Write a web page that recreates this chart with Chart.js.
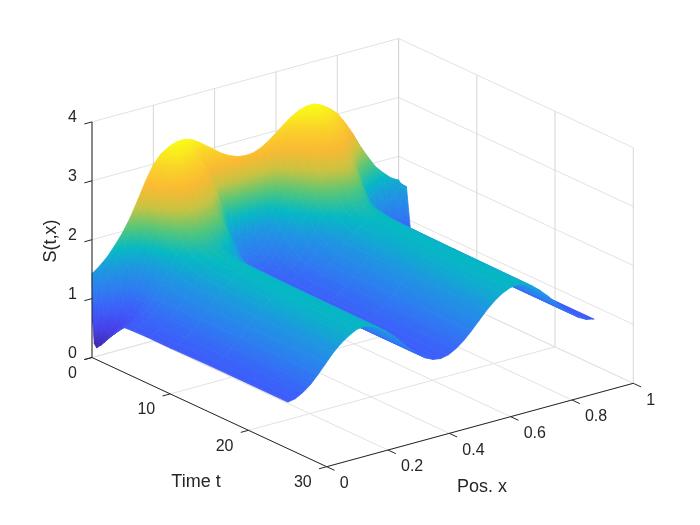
<!DOCTYPE html>
<html>
<head>
<meta charset="utf-8">
<title>S(t,x)</title>
<script src="https://cdn.jsdelivr.net/npm/chart.js@4"></script>
<style>
  html, body { margin: 0; padding: 0; background: #fff; }
  canvas { display: block; }
</style>
</head>
<body>
<canvas id="surfaceChart" width="700" height="525"></canvas>
<script>
// values
const timeValues = [0, 0.1, 0.3, 0.6, 1, 1.5, 2, 3, 4, 5, 7, 10, 15, 25];
const posValues = [0, 0.005, 0.025, 0.05, 0.075, 0.1, 0.125, 0.15, 0.175, 0.2, 0.225, 0.25, 0.275, 0.3, 0.325, 0.35, 0.375, 0.4, 0.425, 0.45, 0.475,
  0.5, 0.525, 0.55, 0.575, 0.6, 0.625, 0.65, 0.675, 0.7, 0.725, 0.75, 0.775, 0.8, 0.825, 0.85, 0.875, 0.9, 0.925, 0.95, 0.975, 0.995, 1];
const surfaceRows = [
  [1.43, 1.44, 1.52, 1.64, 1.80, 1.98, 2.20, 2.47, 2.75, 2.99, 3.14, 3.22, 3.27, 3.28, 3.24, 3.16, 3.06, 2.96, 2.86, 2.79, 2.74,
    2.72, 2.73, 2.78, 2.86, 2.96, 3.07, 3.17, 3.24, 3.28, 3.28, 3.22, 3.13, 3.01, 2.82, 2.60, 2.35, 2.13, 1.93, 1.79, 1.67, 1.61, 1.60],
  [0.60, 0.85, 1.42, 1.60, 1.76, 1.93, 2.17, 2.44, 2.73, 2.98, 3.14, 3.22, 3.27, 3.28, 3.20, 3.05, 2.85, 2.60, 2.35, 2.20, 2.08,
    2.05, 2.10, 2.25, 2.45, 2.65, 2.88, 3.05, 3.20, 3.27, 3.27, 3.22, 3.12, 3.00, 2.80, 2.58, 2.32, 2.08, 1.88, 1.72, 1.62, 1.58, 1.58],
  [0.25, 0.45, 1.10, 1.40, 1.62, 1.80, 2.07, 2.36, 2.68, 2.95, 3.13, 3.22, 3.26, 3.24, 3.12, 2.90, 2.60, 2.25, 1.85, 1.55, 1.40,
    1.35, 1.40, 1.60, 1.95, 2.30, 2.62, 2.92, 3.12, 3.24, 3.26, 3.20, 3.10, 2.97, 2.76, 2.50, 2.22, 1.95, 1.72, 1.55, 1.55, 1.56, 1.56],
  [0.20, 0.26, 0.62, 1.02, 1.28, 1.50, 1.85, 2.20, 2.58, 2.88, 3.10, 3.20, 3.22, 3.18, 3.05, 2.85, 2.55, 2.15, 1.70, 1.35, 1.22,
    1.20, 1.25, 1.42, 1.72, 2.10, 2.45, 2.78, 3.02, 3.18, 3.22, 3.18, 3.08, 2.92, 2.65, 2.35, 2.02, 1.70, 1.45, 1.30, 1.45, 1.55, 1.55],
  [0.26, 0.27, 0.38, 0.65, 0.90, 1.20, 1.60, 2.00, 2.45, 2.80, 3.05, 3.18, 3.12, 3.05, 2.95, 2.75, 2.45, 2.05, 1.60, 1.25, 1.12,
    1.08, 1.15, 1.32, 1.62, 1.98, 2.30, 2.62, 2.90, 3.08, 3.16, 3.12, 3.00, 2.78, 2.45, 2.10, 1.70, 1.30, 1.05, 0.95, 1.20, 1.50, 1.55],
  [0.35, 0.36, 0.42, 0.52, 0.75, 1.02, 1.40, 1.80, 2.25, 2.65, 2.95, 3.05, 3.00, 2.85, 2.70, 2.50, 2.20, 1.80, 1.42, 1.15, 1.02,
    1.00, 1.05, 1.22, 1.50, 1.80, 2.12, 2.45, 2.75, 2.95, 3.05, 3.00, 2.85, 2.60, 2.20, 1.75, 1.32, 0.95, 0.72, 0.60, 0.68, 0.84, 0.86],
  [0.45, 0.46, 0.50, 0.58, 0.72, 0.95, 1.32, 1.70, 2.10, 2.45, 2.68, 2.78, 2.70, 2.60, 2.45, 2.25, 1.95, 1.60, 1.28, 1.08, 0.96,
    0.92, 0.98, 1.12, 1.38, 1.68, 2.00, 2.28, 2.55, 2.75, 2.85, 2.80, 2.60, 2.35, 1.95, 1.50, 1.10, 0.80, 0.60, 0.50, 0.52, 0.55, 0.55],
  [0.62, 0.63, 0.65, 0.70, 0.80, 1.02, 1.30, 1.58, 1.85, 2.10, 2.28, 2.35, 2.30, 2.25, 2.15, 2.00, 1.72, 1.42, 1.18, 1.00, 0.90,
    0.86, 0.90, 1.02, 1.25, 1.50, 1.75, 2.00, 2.25, 2.40, 2.50, 2.50, 2.30, 2.05, 1.70, 1.32, 1.02, 0.80, 0.65, 0.55, 0.52, 0.52, 0.52],
  [0.76, 0.76, 0.78, 0.82, 0.92, 1.10, 1.32, 1.55, 1.75, 1.88, 2.00, 2.05, 2.00, 1.95, 1.85, 1.68, 1.45, 1.25, 1.06, 0.94, 0.86,
    0.84, 0.87, 0.97, 1.12, 1.32, 1.52, 1.72, 1.88, 2.00, 2.05, 2.05, 1.95, 1.78, 1.55, 1.28, 1.05, 0.90, 0.78, 0.70, 0.70, 0.72, 0.72],
  [0.77, 0.77, 0.79, 0.85, 0.96, 1.12, 1.32, 1.50, 1.66, 1.76, 1.82, 1.84, 1.82, 1.74, 1.62, 1.50, 1.36, 1.22, 1.03, 0.92, 0.85,
    0.83, 0.86, 0.94, 1.07, 1.22, 1.40, 1.55, 1.70, 1.80, 1.85, 1.85, 1.80, 1.70, 1.55, 1.35, 1.15, 1.00, 0.88, 0.80, 0.76, 0.76, 0.76],
  [0.78, 0.78, 0.80, 0.88, 0.98, 1.12, 1.28, 1.44, 1.57, 1.67, 1.74, 1.76, 1.73, 1.66, 1.55, 1.43, 1.29, 1.15, 1.02, 0.90, 0.84,
    0.82, 0.85, 0.92, 1.03, 1.16, 1.31, 1.45, 1.58, 1.67, 1.74, 1.76, 1.73, 1.65, 1.53, 1.40, 1.24, 1.08, 0.97, 0.87, 0.79, 0.77, 0.77],
  [0.78, 0.78, 0.81, 0.88, 0.98, 1.12, 1.27, 1.43, 1.55, 1.65, 1.72, 1.74, 1.71, 1.64, 1.54, 1.41, 1.27, 1.13, 1.01, 0.90, 0.84,
    0.82, 0.85, 0.92, 1.02, 1.15, 1.30, 1.44, 1.56, 1.65, 1.71, 1.74, 1.71, 1.64, 1.52, 1.39, 1.24, 1.10, 0.98, 0.88, 0.81, 0.78, 0.78],
  [0.79, 0.79, 0.81, 0.88, 0.98, 1.12, 1.27, 1.42, 1.54, 1.64, 1.71, 1.73, 1.70, 1.63, 1.53, 1.40, 1.26, 1.12, 1.00, 0.90, 0.84,
    0.82, 0.85, 0.92, 1.02, 1.15, 1.29, 1.43, 1.55, 1.64, 1.70, 1.73, 1.70, 1.63, 1.51, 1.38, 1.24, 1.10, 0.98, 0.88, 0.81, 0.79, 0.78],
  [0.79, 0.79, 0.81, 0.88, 0.98, 1.12, 1.27, 1.42, 1.54, 1.63, 1.70, 1.72, 1.69, 1.62, 1.52, 1.40, 1.26, 1.12, 1.00, 0.90, 0.84,
    0.82, 0.85, 0.92, 1.02, 1.15, 1.29, 1.43, 1.55, 1.64, 1.70, 1.72, 1.69, 1.62, 1.51, 1.38, 1.24, 1.10, 0.98, 0.88, 0.81, 0.79, 0.78]
];
const timeTicks = [0, 10, 20, 30];
const posTicks = [0, 0.2, 0.4, 0.6, 0.8, 1];
const heightTicks = [0, 1, 2, 3, 4];

const parula = [
  [62, 38, 168], [70, 65, 235], [60, 95, 250], [45, 125, 240], [30, 150, 225], [5, 185, 195],
  [85, 198, 120], [200, 195, 65], [250, 185, 50], [250, 210, 40], [249, 251, 20]
];
const flat = surfaceRows.flat();
const sMin = Math.min(...flat);
const sMax = Math.max(...flat);
const gradCtx = document.createElement('canvas').getContext('2d');

// fixed MATLAB-style 3D view
function project(t, x, s) {
  return {
    x: 92 + 7.823 * t + 306.6 * x,
    y: 357.5 + 3.64 * t - 83.4 * x - 58.9 * s
  };
}

function colorFor(s) {
  const f = Math.max(0, Math.min(1, (s - sMin) / (sMax - sMin))) * (parula.length - 1);
  const i = Math.min(parula.length - 2, Math.floor(f));
  const k = f - i;
  const c = parula[i].map((v, n) => Math.round(v + (parula[i + 1][n] - v) * k));
  return `rgb(${c[0]},${c[1]},${c[2]})`;
}

// colour follows the height across one cell of the surface
function cellPaint(pts, vals) {
  const lo = Math.min(...vals);
  const hi = Math.max(...vals);
  if (hi - lo < 0.005) return colorFor(lo);
  const d1 = { x: pts[2].x - pts[0].x, y: pts[2].y - pts[0].y, s: vals[2] - vals[0] };
  const d2 = { x: pts[3].x - pts[1].x, y: pts[3].y - pts[1].y, s: vals[3] - vals[1] };
  const det = d1.x * d2.y - d1.y * d2.x;
  const mean = vals.reduce((a, b) => a + b, 0) / 4;
  if (Math.abs(det) < 0.5) return colorFor(mean);
  const gx = (d1.s * d2.y - d2.s * d1.y) / det;
  const gy = (d1.x * d2.s - d2.x * d1.s) / det;
  const g2 = gx * gx + gy * gy;
  if (g2 === 0) return colorFor(mean);
  const cx = pts.reduce((a, p) => a + p.x, 0) / 4;
  const cy = pts.reduce((a, p) => a + p.y, 0) / 4;
  const a = (lo - mean) / g2;
  const b = (hi - mean) / g2;
  const grad = gradCtx.createLinearGradient(cx + gx * a, cy + gy * a, cx + gx * b, cy + gy * b);
  for (let i = 0; i <= 6; i++) grad.addColorStop(i / 6, colorFor(lo + (hi - lo) * i / 6));
  return grad;
}

function lineSet(points, color) {
  return { data: points, borderColor: color, borderWidth: 1, pointRadius: 0, showLine: true, fill: false, tension: 0 };
}

const gridColor = '#e2e2e2';
const wallColor = '#d6d6d6';
const axisColor = '#262626';

function gridSets() {
  const sets = [];
  timeTicks.forEach(t => {
    sets.push(lineSet([project(t, 0, 0), project(t, 1, 0)], gridColor));
    sets.push(lineSet([project(t, 1, 0), project(t, 1, 4)], wallColor));
  });
  posTicks.forEach(x => {
    sets.push(lineSet([project(0, x, 0), project(30, x, 0)], gridColor));
    sets.push(lineSet([project(0, x, 0), project(0, x, 4)], wallColor));
  });
  heightTicks.forEach(s => {
    sets.push(lineSet([project(0, 0, s), project(0, 1, s)], gridColor));
    sets.push(lineSet([project(0, 1, s), project(30, 1, s)], gridColor));
  });
  return sets;
}

function axisSets() {
  const sets = [
    lineSet([project(0, 0, 0), project(0, 0, 4)], axisColor),
    lineSet([project(0, 0, 0), project(30, 0, 0)], axisColor),
    lineSet([project(30, 0, 0), project(30, 1, 0)], axisColor)
  ];
  timeTicks.forEach(t => sets.push(lineSet([project(t, 0, 0), project(t, -0.025, 0)], axisColor)));
  posTicks.forEach(x => sets.push(lineSet([project(30, x, 0), project(31, x, 0)], axisColor)));
  heightTicks.forEach(s => sets.push(lineSet([project(0, 0, s), project(0, -0.025, s)], axisColor)));
  return sets;
}

// first dataset is painted last, so the nearest cell comes first
function surfaceSets() {
  const sets = [];
  for (let r = timeValues.length - 2; r >= 0; r--) {
    for (let c = 0; c < posValues.length - 1; c++) {
      const corners = [[r, c], [r + 1, c], [r + 1, c + 1], [r, c + 1]];
      const pts = corners.map(([i, j]) => project(timeValues[i], posValues[j], surfaceRows[i][j]));
      const vals = corners.map(([i, j]) => surfaceRows[i][j]);
      const paint = cellPaint(pts, vals);
      sets.push({
        data: pts.concat([pts[0]]),
        borderColor: paint,
        backgroundColor: paint,
        borderWidth: 0.8,
        pointRadius: 0,
        showLine: true,
        fill: 'shape',
        tension: 0
      });
    }
  }
  return sets;
}

const axisText = {
  id: 'axisText',
  afterDraw(chart) {
    const { ctx, scales } = chart;
    const put = (text, p, dx, dy, align) => {
      ctx.textAlign = align;
      ctx.fillText(text, scales.x.getPixelForValue(p.x) + dx, scales.y.getPixelForValue(p.y) + dy);
    };
    ctx.save();
    ctx.fillStyle = axisColor;
    ctx.textBaseline = 'middle';
    ctx.font = '16px "Liberation Sans"';
    timeTicks.forEach(t => put(String(t), project(t, 0, 0), -15, 16, 'right'));
    posTicks.forEach(x => put(String(x), project(30, x, 0), 13, 17, 'left'));
    heightTicks.forEach(s => put(String(s), project(0, 0, s), -15, -4, 'right'));
    ctx.font = '18px "Liberation Sans"';
    ctx.textAlign = 'center';
    ctx.fillText('Time t', 196, 482);
    ctx.fillText('Pos. x', 482, 487);
    ctx.translate(51, 241);
    ctx.rotate(-Math.PI / 2);
    ctx.fillText('S(t,x)', 0, 0);
    ctx.restore();
  }
};

new Chart(document.getElementById('surfaceChart'), {
  type: 'scatter',
  data: { datasets: [...axisSets(), ...surfaceSets(), ...gridSets()] },
  options: {
    responsive: false,
    animation: false,
    events: [],
    layout: { padding: 0 },
    plugins: { legend: { display: false }, tooltip: { enabled: false } },
    scales: {
      x: { type: 'linear', min: 0, max: 700, display: false },
      y: { type: 'linear', min: 0, max: 525, reverse: true, display: false }
    }
  },
  plugins: [axisText]
});
</script>
</body>
</html>
